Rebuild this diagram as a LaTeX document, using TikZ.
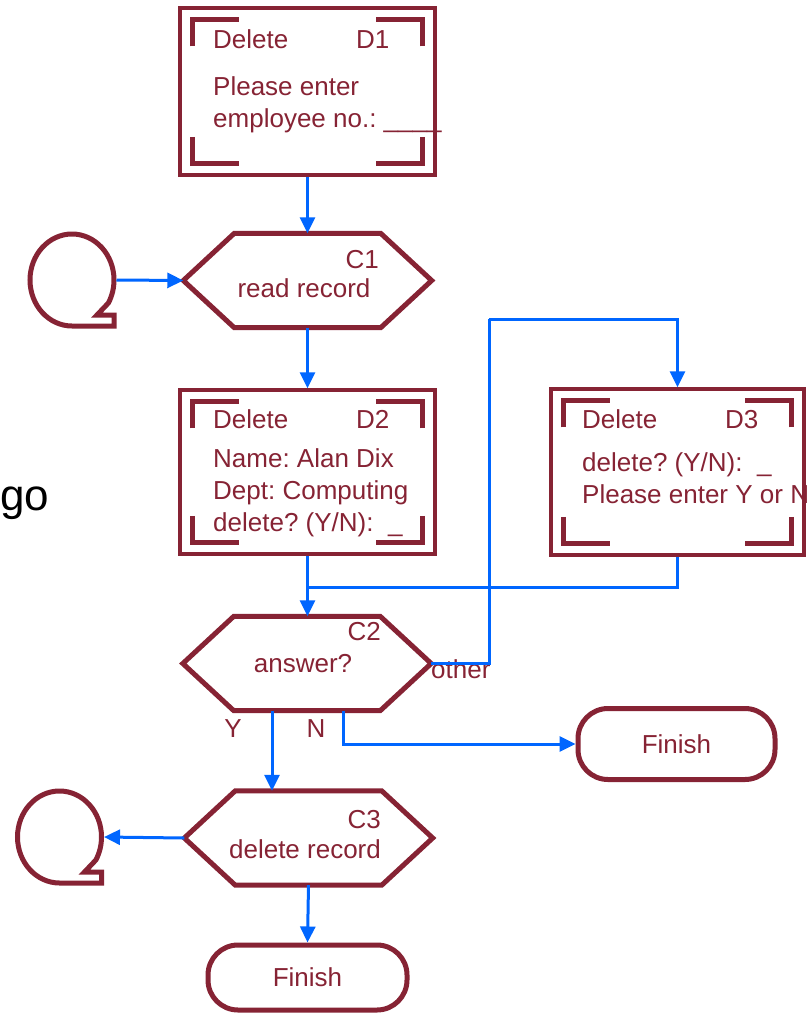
\documentclass[tikz,border=0pt]{standalone}
\usepackage{fontspec}
\setmainfont{Liberation Sans}
\usetikzlibrary{arrows.meta}
\definecolor{maroon}{RGB}{134,35,52}
\definecolor{flowblue}{RGB}{0,102,255}
\frenchspacing

\begin{document}
\begin{tikzpicture}[x=1pt,y=-1pt]
\def\hexinset{51}; %Horizontal inset of the hexagon top/bottom edges
\def\markin{14}; %Inset of the corner marks in a dialog box
\def\markv{40}; %Vertical reach of a corner mark
\def\markh{61}; %Horizontal reach of a corner mark

\tikzstyle{dlg} = [rectangle, draw=maroon, line width=3.5pt, inner sep=0pt]
\tikzstyle{corner} = [draw=maroon, line width=5pt, line join=miter]
\tikzstyle{hexbox} = [rectangle, inner sep=0pt, minimum width=248pt, minimum height=94pt]
\tikzstyle{hexline} = [draw=maroon, line width=5pt, line join=miter]
\tikzstyle{finish} = [rectangle, draw=maroon, line width=5pt, rounded corners=30pt, inner sep=0pt, text=maroon, font=\fontsize{26}{32}\selectfont]
\tikzstyle{loopsym} = [draw=maroon, line width=5pt, line join=miter]
\tikzstyle{txt} = [text=maroon, font=\fontsize{26}{32}\selectfont, inner sep=0pt, anchor=base west]
\tikzstyle{flow} = [draw=flowblue, line width=3pt, -{Triangle[length=16pt,width=15pt]}]
\tikzstyle{flowline} = [draw=flowblue, line width=3pt]

\newcommand{\corners}[1]{%
 \draw[corner] ([shift={(\markin,\markv)}]#1.north west) -- ([shift={(\markin,13)}]#1.north west) -- ([shift={(\markh,13)}]#1.north west);
 \draw[corner] ([shift={(-\markin,\markv)}]#1.north east) -- ([shift={(-\markin,13)}]#1.north east) -- ([shift={(-\markh,13)}]#1.north east);
 \draw[corner] ([shift={(\markin,-\markv)}]#1.south west) -- ([shift={(\markin,-13)}]#1.south west) -- ([shift={(\markh,-13)}]#1.south west);
 \draw[corner] ([shift={(-\markin,-\markv)}]#1.south east) -- ([shift={(-\markin,-13)}]#1.south east) -- ([shift={(-\markh,-13)}]#1.south east);
}
\newcommand{\hexoutline}[1]{%
 \draw[hexline] (#1.west) -- ([shift={(\hexinset,0)}]#1.north west) -- ([shift={(-\hexinset,0)}]#1.north east) -- (#1.east) -- ([shift={(-\hexinset,0)}]#1.south east) -- ([shift={(\hexinset,0)}]#1.south west) -- cycle;
}
\newcommand{\loopmark}[3]{%
 \begin{scope}[shift={(#2,#3)}]
 \draw[loopsym] (0,46) arc[start angle=90, end angle=390, x radius=42, y radius=46] -- (25,35) -- (42,35) -- (42,46) -- cycle;
 \coordinate (#1) at (44.5,0);
 \end{scope}
}

\useasboundingbox (0,0) rectangle (811,1015);

%dialog D1
\node[dlg, minimum width=255pt, minimum height=167pt] (d1) at (307.5,91.5) {};
\corners{d1}
\node[txt] (d1title) at (213,48) {Delete};
\node[txt] (d1id) at (356,48) {D1};
\node[txt] (d1l1) at (213,95) {Please enter};
\node[txt] (d1l2) at (213,127) {employee no.: \_\_\_\_};

%C1
\node[hexbox] (c1) at (307.5,280.5) {};
\hexoutline{c1}
\node[txt, anchor=base east] (c1id) at (379,268) {C1};
\node[txt, anchor=base] (c1txt) at (304,297) {read record};
\loopmark{loop1}{72}{280}

%dialog D2
\node[dlg, minimum width=255pt, minimum height=164pt] (d2) at (307.5,472) {};
\corners{d2}
\node[txt] (d2title) at (213,428) {Delete};
\node[txt] (d2id) at (356,428) {D2};
\node[txt] (d2l1) at (213,467) {Name: Alan Dix};
\node[txt] (d2l2) at (213,499) {Dept: Computing};
\node[txt] (d2l3) at (213,531) {delete? (Y/N):\ \ \_};

%dialog D3
\node[dlg, minimum width=253pt, minimum height=166pt] (d3) at (677.5,472) {};
\corners{d3}
\node[txt] (d3title) at (582,428) {Delete};
\node[txt] (d3id) at (725,428) {D3};
\node[txt] (d3l1) at (582,471) {delete? (Y/N):\ \ \_};
\node[txt] (d3l2) at (582,503) {Please enter Y or N};

%C2
\node[hexbox] (c2) at (307,663.5) {};
\hexoutline{c2}
\node[txt, anchor=base east] (c2id) at (381,640) {C2};
\node[txt, anchor=base] (c2txt) at (303,672) {answer?};
\node[txt] (other) at (431,678) {other};
\node[txt, anchor=base] (yes) at (233,737) {Y};
\node[txt, anchor=base] (no) at (316,737) {N};

\node[finish, minimum width=197pt, minimum height=71pt] (finR) at (676.5,744) {Finish};

%C3
\node[hexbox] (c3) at (308.5,838) {};
\hexoutline{c3}
\node[txt, anchor=base east] (c3id) at (381,828) {C3};
\node[txt, anchor=base] (c3txt) at (305,858) {delete record};
\loopmark{loop2}{59.5}{837}

\node[finish, minimum width=199pt, minimum height=65pt] (finB) at (307.5,977.5) {Finish};

\node[inner sep=0pt, anchor=base west, font=\fontsize{44}{52}\selectfont] (go) at (0,510) {go};

\coordinate (bend1) at (489,319);
\coordinate (join1) at (307.5,587);

\draw[flow] (d1.south) -- (c1.north);
\draw[flow] (loop1) -- (c1.west);
\draw[flow] (c1.south) -- (d2.north);
\draw[flow] (d2.south) -- (d2.south |- c2.north);
\draw[flowline] (d3.south) |- (join1);
\draw[flowline] (c2.east) -| (bend1);
\draw[flow] (bend1) -| (d3.north);
\draw[flow] ([shift={(-35,0)}]c2.south) -- ([shift={(-35,0)}]c2.south |- c3.north);
\draw[flow] ([shift={(36,0)}]c2.south) |- (finR.west);
\draw[flow] (c3.west) -- (loop2);
\draw[flow] (c3.south) -- (finB.north);

\end{tikzpicture}
\end{document}
